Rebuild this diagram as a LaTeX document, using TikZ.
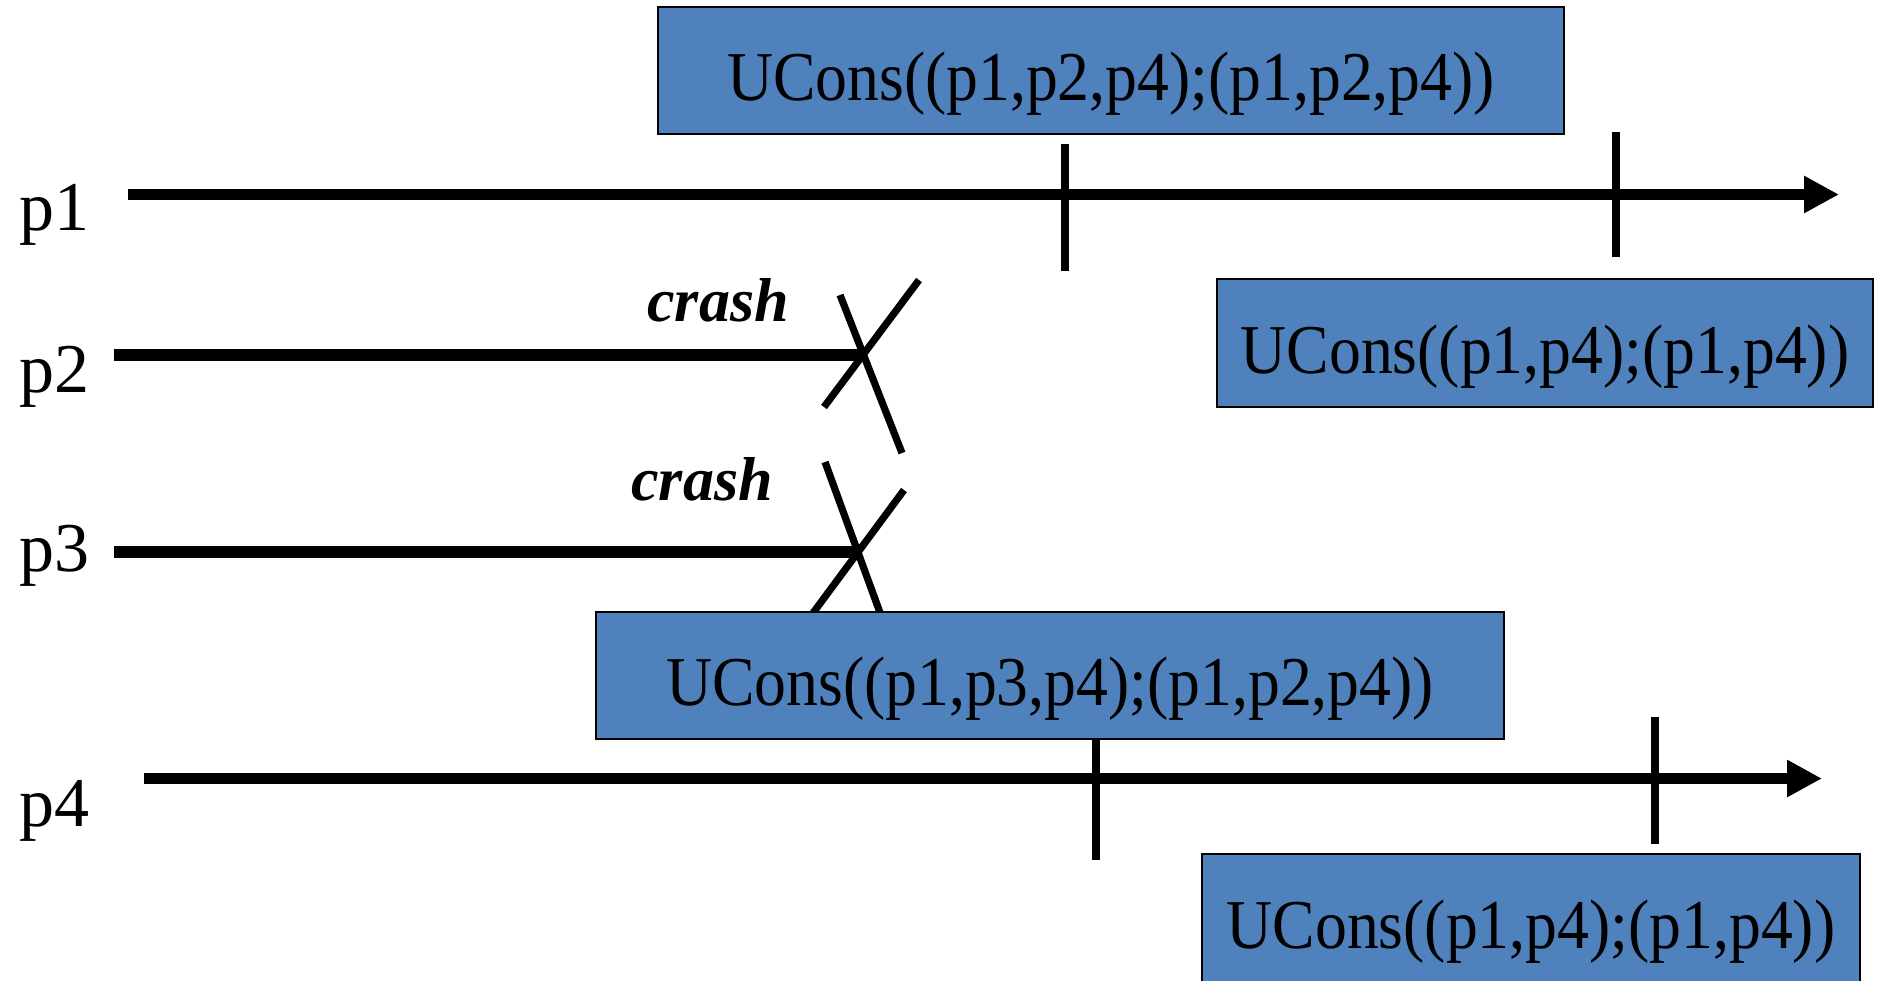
\documentclass[tikz,border=0pt]{standalone}
\usepackage{fontspec}
\setmainfont{Liberation Serif}
\newfontfamily\boxfont[FakeStretch=0.91]{Liberation Serif}
\usetikzlibrary{arrows.meta}
\definecolor{ublue}{HTML}{4F81BD}
\begin{document}
\begin{tikzpicture}[x=0.5pt,y=-0.5pt,
  timeline/.style={line width=5.8pt},
  arrowline/.style={timeline,-{Triangle[length=17.5pt,width=17.5pt]}},
  tickmark/.style={line width=3.6pt},
  crossline/.style={line width=3.6pt},
  ucons/.style={draw=black,line width=1pt,fill=ublue,inner sep=0pt,
    text height=30pt,text depth=0pt,
    font=\boxfont\fontsize{35}{42}\selectfont},
  plabel/.style={anchor=base west,inner sep=0pt,font=\fontsize{35}{42}\selectfont},
  crashlabel/.style={anchor=base west,inner sep=0pt,
    font=\bfseries\itshape\fontsize{31}{37}\selectfont},
]
\useasboundingbox (0,0) rectangle (1878,980);

% process labels
\node[plabel] (l1) at (19,230) {p1};
\node[plabel] (l2) at (19,392) {p2};
\node[plabel] (l3) at (19,571) {p3};
\node[plabel] (l4) at (19,826) {p4};

% time lines
\coordinate (p1s) at (128,194.5); \coordinate (p1e) at (1839,194.5);
\coordinate (p2s) at (114,355);   \coordinate (x2) at (860,355);
\coordinate (p3s) at (114,552);   \coordinate (x3) at (858,552);
\coordinate (p4s) at (144,778.5); \coordinate (p4e) at (1822,778.5);
\draw[arrowline] (p1s) -- (p1e);
\draw[timeline] (p2s) -- (x2);
\draw[timeline] (p3s) -- (x3);
\draw[arrowline] (p4s) -- (p4e);

% decision ticks
\coordinate (t1a) at (1065,144); \coordinate (t1b) at (1065,271);
\coordinate (t2a) at (1616,132); \coordinate (t2b) at (1616,257);
\coordinate (t3a) at (1096,700); \coordinate (t3b) at (1096,860);
\coordinate (t4a) at (1655,717); \coordinate (t4b) at (1655,844);
\draw[tickmark] (t1a) -- (t1b);
\draw[tickmark] (t2a) -- (t2b);
\draw[tickmark] (t3a) -- (t3b);
\draw[tickmark] (t4a) -- (t4b);

% crash crosses
\coordinate (c2a) at (840,295); \coordinate (c2b) at (902,453);
\coordinate (c2c) at (919,280); \coordinate (c2d) at (824,407);
\draw[crossline] (c2a) -- (c2b);
\draw[crossline] (c2c) -- (c2d);
\coordinate (c3a) at (825,462); \coordinate (c3b) at (890,640);
\coordinate (c3c) at (904,490); \coordinate (c3d) at (793,640);
\draw[crossline] (c3a) -- (c3b);
\draw[crossline] (c3c) -- (c3d);
\node[crashlabel] (cr2) at (647,321) {crash};
\node[crashlabel] (cr3) at (631,500.5) {crash};

% UCons messages
\node[ucons,minimum width=453pt,minimum height=63.5pt] (b1) at (1111,70.5)
  {UCons((p1,p2,p4);(p1,p2,p4))};
\node[ucons,minimum width=328pt,minimum height=64pt] (b2) at (1545,343)
  {UCons((p1,p4);(p1,p4))};
\node[ucons,minimum width=453.75pt,minimum height=63.5pt] (b3) at (1050,675.5)
  {UCons((p1,p3,p4);(p1,p2,p4))};
\node[ucons,minimum width=329pt,minimum height=64pt] (b4) at (1531,918)
  {UCons((p1,p4);(p1,p4))};
\end{tikzpicture}
\end{document}
